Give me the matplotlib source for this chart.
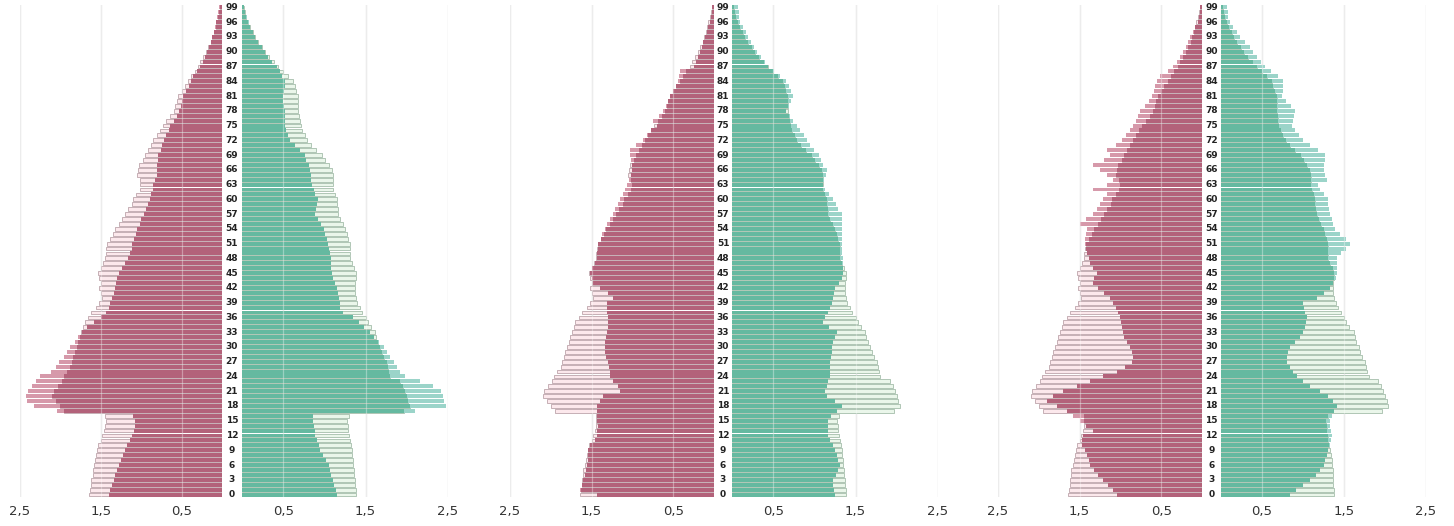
import numpy as np
import matplotlib
matplotlib.use("Agg")
import matplotlib.pyplot as plt
import matplotlib.transforms as mtransforms

ages = list(range(100))
age_labels = [str(a) for a in range(0, 100, 3)]
tick_values = [0.5, 1.5, 2.5]
tick_labels = ["0,5", "1,5", "2,5"]

# reference (pale, outlined) pyramid, shared by all three panels
ref_left = [
    1.64, 1.63, 1.62, 1.62, 1.60, 1.60, 1.58, 1.57, 1.56, 1.55,
    1.53, 1.50, 1.48, 1.46, 1.45, 1.44, 1.45, 1.95, 2.00, 2.05,
    2.10, 2.08, 2.03, 1.98, 1.96, 1.92, 1.88, 1.86, 1.84, 1.82,
    1.80, 1.78, 1.76, 1.74, 1.72, 1.70, 1.66, 1.62, 1.56, 1.52,
    1.48, 1.50, 1.52, 1.50, 1.52, 1.53, 1.50, 1.47, 1.45, 1.44,
    1.43, 1.42, 1.38, 1.35, 1.32, 1.28, 1.24, 1.20, 1.16, 1.12,
    1.10, 1.06, 1.02, 1.01, 1.02, 1.05, 1.04, 1.03, 0.98, 0.95,
    0.92, 0.88, 0.85, 0.81, 0.77, 0.73, 0.69, 0.64, 0.60, 0.58,
    0.56, 0.54, 0.50, 0.46, 0.42, 0.38, 0.34, 0.30, 0.27, 0.23,
    0.20, 0.17, 0.14, 0.12, 0.10, 0.08, 0.07, 0.05, 0.04, 0.03]
ref_right = [
    1.38, 1.38, 1.37, 1.37, 1.36, 1.36, 1.35, 1.35, 1.34, 1.33,
    1.32, 1.31, 1.30, 1.29, 1.29, 1.28, 1.30, 1.96, 2.04, 2.02,
    2.00, 1.98, 1.95, 1.92, 1.80, 1.78, 1.77, 1.76, 1.72, 1.70,
    1.68, 1.65, 1.63, 1.62, 1.56, 1.53, 1.50, 1.46, 1.43, 1.40,
    1.38, 1.37, 1.37, 1.37, 1.38, 1.38, 1.36, 1.33, 1.31, 1.31,
    1.31, 1.31, 1.29, 1.27, 1.25, 1.22, 1.19, 1.17, 1.16, 1.15,
    1.15, 1.13, 1.11, 1.10, 1.10, 1.10, 1.09, 1.05, 1.01, 0.97,
    0.90, 0.84, 0.79, 0.76, 0.73, 0.71, 0.70, 0.69, 0.68, 0.68,
    0.68, 0.68, 0.66, 0.64, 0.62, 0.56, 0.50, 0.44, 0.39, 0.33,
    0.28, 0.24, 0.20, 0.16, 0.13, 0.10, 0.07, 0.05, 0.04, 0.03]

p1_left = [
    1.40, 1.38, 1.36, 1.34, 1.32, 1.30, 1.28, 1.25, 1.22, 1.20,
    1.17, 1.14, 1.11, 1.09, 1.08, 1.08, 1.10, 2.04, 2.33, 2.41,
    2.42, 2.40, 2.35, 2.30, 2.25, 2.12, 2.06, 2.02, 1.96, 1.92,
    1.88, 1.82, 1.78, 1.73, 1.67, 1.58, 1.50, 1.44, 1.40, 1.38,
    1.36, 1.34, 1.32, 1.31, 1.30, 1.28, 1.24, 1.20, 1.16, 1.14,
    1.12, 1.11, 1.09, 1.07, 1.05, 1.02, 1.00, 0.97, 0.94, 0.91,
    0.89, 0.88, 0.86, 0.85, 0.83, 0.81, 0.80, 0.80, 0.79, 0.79,
    0.76, 0.74, 0.72, 0.69, 0.66, 0.64, 0.60, 0.56, 0.53, 0.51,
    0.50, 0.48, 0.45, 0.41, 0.38, 0.36, 0.31, 0.27, 0.24, 0.21,
    0.19, 0.16, 0.14, 0.12, 0.10, 0.09, 0.08, 0.06, 0.05, 0.04]
p1_right = [
    1.15, 1.14, 1.12, 1.10, 1.08, 1.07, 1.05, 1.02, 0.98, 0.95,
    0.93, 0.91, 0.89, 0.88, 0.87, 0.86, 0.86, 2.10, 2.48, 2.45,
    2.44, 2.42, 2.32, 2.16, 1.98, 1.92, 1.88, 1.84, 1.80, 1.76,
    1.72, 1.66, 1.60, 1.55, 1.48, 1.42, 1.35, 1.22, 1.19, 1.19,
    1.18, 1.16, 1.15, 1.13, 1.11, 1.09, 1.08, 1.08, 1.08, 1.07,
    1.05, 1.04, 1.03, 1.01, 1.00, 0.96, 0.92, 0.89, 0.90, 0.91,
    0.92, 0.89, 0.87, 0.85, 0.84, 0.84, 0.83, 0.81, 0.78, 0.76,
    0.70, 0.64, 0.58, 0.56, 0.54, 0.52, 0.52, 0.52, 0.52, 0.51,
    0.50, 0.50, 0.51, 0.52, 0.52, 0.49, 0.46, 0.42, 0.37, 0.32,
    0.28, 0.24, 0.20, 0.16, 0.13, 0.10, 0.08, 0.06, 0.04, 0.03]

p2_left = [
    1.43, 1.64, 1.62, 1.60, 1.58, 1.57, 1.56, 1.55, 1.55, 1.54,
    1.52, 1.46, 1.43, 1.43, 1.42, 1.43, 1.43, 1.43, 1.43, 1.40,
    1.36, 1.15, 1.18, 1.24, 1.27, 1.28, 1.29, 1.30, 1.32, 1.33,
    1.34, 1.33, 1.32, 1.31, 1.30, 1.30, 1.30, 1.31, 1.31, 1.31,
    1.24, 1.30, 1.40, 1.48, 1.50, 1.52, 1.50, 1.46, 1.43, 1.43,
    1.42, 1.42, 1.39, 1.37, 1.34, 1.31, 1.27, 1.24, 1.21, 1.18,
    1.15, 1.12, 1.09, 1.07, 1.04, 1.02, 1.00, 1.01, 1.02, 1.03,
    1.03, 0.95, 0.87, 0.82, 0.77, 0.70, 0.75, 0.68, 0.62, 0.59,
    0.56, 0.54, 0.50, 0.47, 0.44, 0.43, 0.42, 0.25, 0.22, 0.19,
    0.17, 0.15, 0.13, 0.11, 0.09, 0.07, 0.05, 0.04, 0.03, 0.02]
p2_right = [
    1.25, 1.24, 1.23, 1.22, 1.26, 1.29, 1.31, 1.29, 1.27, 1.25,
    1.22, 1.19, 1.17, 1.17, 1.17, 1.17, 1.20, 1.28, 1.33, 1.25,
    1.15, 1.13, 1.15, 1.17, 1.19, 1.19, 1.19, 1.19, 1.20, 1.21,
    1.21, 1.23, 1.25, 1.27, 1.18, 1.10, 1.13, 1.16, 1.19, 1.21,
    1.22, 1.24, 1.25, 1.30, 1.33, 1.35, 1.35, 1.35, 1.35, 1.34,
    1.33, 1.33, 1.33, 1.33, 1.33, 1.34, 1.34, 1.33, 1.29, 1.26,
    1.23, 1.18, 1.13, 1.11, 1.12, 1.14, 1.15, 1.11, 1.08, 1.05,
    1.00, 0.95, 0.91, 0.87, 0.83, 0.79, 0.74, 0.70, 0.66, 0.69,
    0.72, 0.74, 0.72, 0.69, 0.66, 0.58, 0.51, 0.44, 0.40, 0.35,
    0.30, 0.27, 0.23, 0.20, 0.17, 0.13, 0.10, 0.09, 0.08, 0.07]

p3_left = [
    1.04, 1.09, 1.15, 1.21, 1.27, 1.32, 1.37, 1.39, 1.41, 1.43,
    1.47, 1.47, 1.46, 1.34, 1.42, 1.50, 1.58, 1.65, 1.78, 1.90,
    1.82, 1.70, 1.53, 1.37, 1.21, 1.04, 0.94, 0.86, 0.84, 0.86,
    0.88, 0.92, 0.95, 0.97, 0.98, 0.99, 1.00, 1.03, 1.06, 1.09,
    1.13, 1.20, 1.28, 1.34, 1.32, 1.29, 1.33, 1.37, 1.39, 1.41,
    1.42, 1.43, 1.43, 1.42, 1.41, 1.50, 1.42, 1.34, 1.29, 1.25,
    1.21, 1.16, 1.34, 1.16, 1.09, 1.17, 1.25, 1.34, 1.20, 1.13,
    1.16, 1.05, 0.98, 0.93, 0.88, 0.84, 0.81, 0.79, 0.76, 0.70,
    0.65, 0.61, 0.59, 0.57, 0.55, 0.51, 0.42, 0.36, 0.31, 0.27,
    0.23, 0.20, 0.17, 0.15, 0.11, 0.08, 0.05, 0.04, 0.03, 0.02]
p3_right = [
    0.84, 0.92, 1.00, 1.09, 1.16, 1.21, 1.25, 1.27, 1.29, 1.31,
    1.33, 1.34, 1.35, 1.34, 1.33, 1.33, 1.35, 1.38, 1.41, 1.37,
    1.30, 1.21, 1.09, 1.00, 0.93, 0.88, 0.84, 0.80, 0.80, 0.82,
    0.84, 0.90, 0.96, 1.00, 1.02, 1.04, 1.05, 1.03, 1.01, 1.00,
    1.17, 1.26, 1.33, 1.37, 1.40, 1.41, 1.41, 1.41, 1.41, 1.46,
    1.52, 1.57, 1.52, 1.45, 1.39, 1.37, 1.35, 1.33, 1.32, 1.31,
    1.31, 1.26, 1.21, 1.18, 1.29, 1.27, 1.25, 1.26, 1.27, 1.27,
    1.18, 1.08, 1.00, 0.95, 0.90, 0.86, 0.88, 0.89, 0.90, 0.85,
    0.79, 0.74, 0.75, 0.76, 0.76, 0.69, 0.61, 0.54, 0.49, 0.44,
    0.39, 0.35, 0.29, 0.23, 0.19, 0.15, 0.11, 0.09, 0.08, 0.07]

panels = [(p1_left, p1_right), (p2_left, p2_right), (p3_left, p3_right)]

# layout in pixels (figure 1454 x 526)
W, H = 1454, 526
left_axes_px = [(20, 222), (510, 714), (998, 1202)]
right_axes_px = [(242, 448), (732, 938), (1221, 1426)]
top_px, bot_px = 5, 497

red_core, red_fringe, red_pale, red_edge = "#b3627a", "#d699aa", "#fce8ec", "#a88a92"
grn_core, grn_fringe, grn_pale, grn_edge = "#65b9a0", "#9bd4c9", "#eaf6ea", "#8aa992"

fig = plt.figure(figsize=(W / 100, H / 100), dpi=100)
fig.patch.set_facecolor("white")


def make_ax(x0, x1):
    return fig.add_axes([x0 / W, (H - bot_px) / H, (x1 - x0) / W, (bot_px - top_px) / H])


def draw_side(ax, ref, cur, core, fringe, pale, edge, invert):
    ref = np.asarray(ref)
    cur = np.asarray(cur)
    y = np.asarray(ages)
    for v in tick_values:
        ax.axvline(v, color="#e2e2e2", lw=1.0, zorder=0)
    ax.barh(y, ref, height=0.78, color=pale, edgecolor=edge, linewidth=0.45, zorder=1)
    ax.barh(y, cur, height=0.8, color=fringe, edgecolor="none", zorder=2)
    ax.barh(y, np.minimum(cur, ref), height=0.8, color=core, edgecolor="none", zorder=3)
    for v in tick_values:
        ax.axvline(v, color="white", lw=0.9, alpha=0.35, zorder=4)
    ax.set_ylim(-0.5, 99.5)
    if invert:
        ax.set_xlim(2.5, 0)
    else:
        ax.set_xlim(0, 2.5)
    ax.set_xticks(tick_values)
    ax.set_xticklabels(tick_labels)
    ax.tick_params(axis="x", length=0, pad=6, labelsize=9.5, labelcolor="#333333")
    ax.set_yticks([])
    for s in ax.spines.values():
        s.set_visible(False)
    ax.patch.set_alpha(0)


for (lx, rx), (cl, cr) in zip(zip(left_axes_px, right_axes_px), panels):
    axL = make_ax(*lx)
    axR = make_ax(*rx)
    draw_side(axL, ref_left, cl, red_core, red_fringe, red_pale, red_edge, True)
    draw_side(axR, ref_right, cr, grn_core, grn_fringe, grn_pale, grn_edge, False)
    xc = (lx[1] + rx[0]) / 2 / W
    trans = mtransforms.blended_transform_factory(fig.transFigure, axL.transData)
    for lab in age_labels:
        fig.text(xc, int(lab), lab, transform=trans, ha="center", va="center",
                 fontsize=6.5, fontweight="bold", color="#222222")

fig.savefig("out.png", dpi=100, facecolor="white")
